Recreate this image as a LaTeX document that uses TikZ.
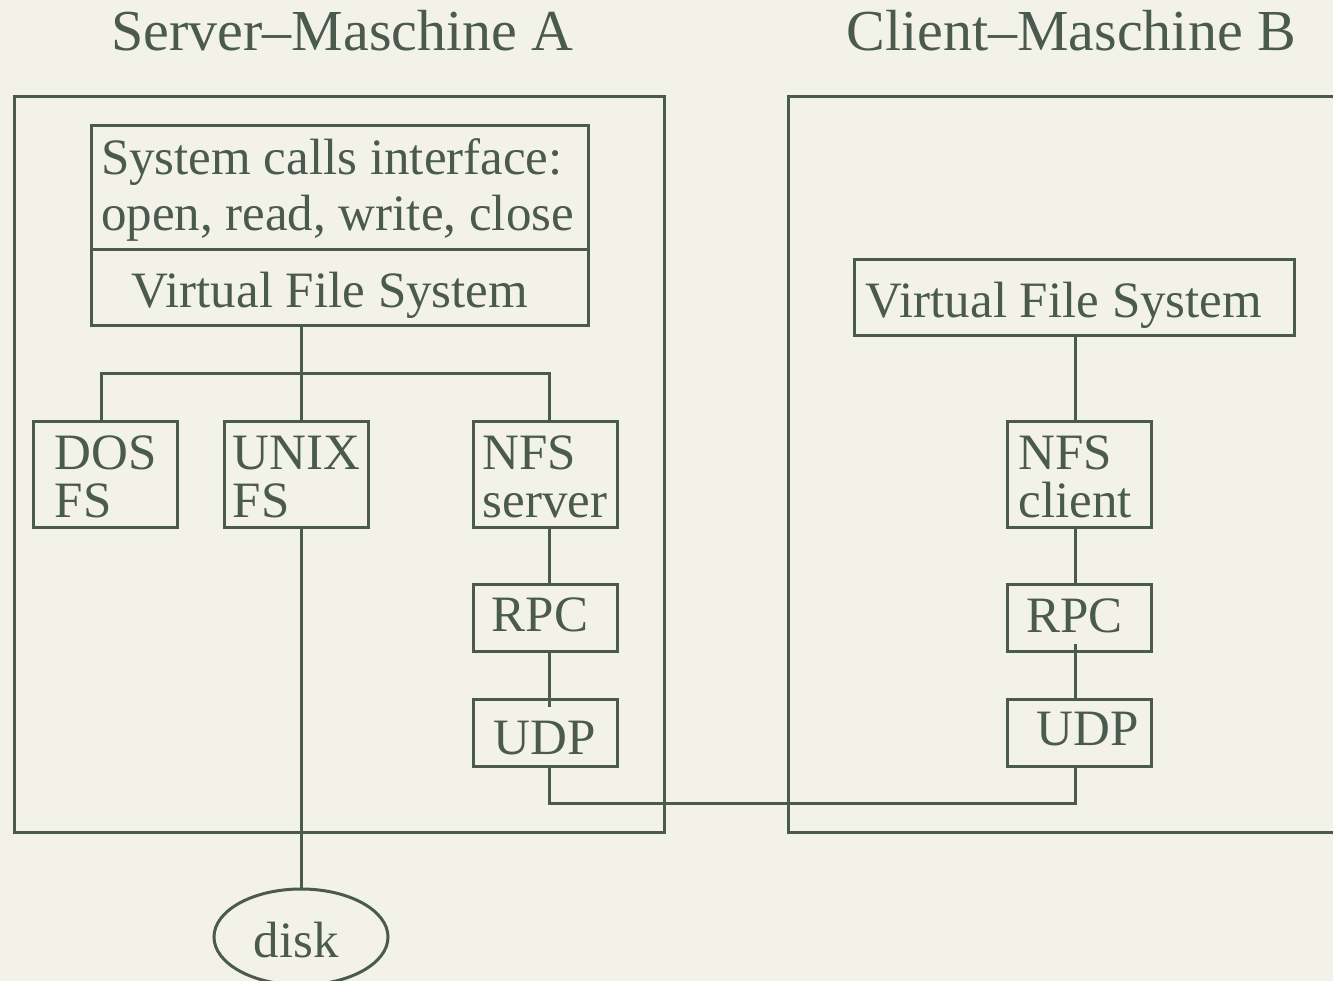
\documentclass[tikz,border=0pt]{standalone}
\usepackage{fontspec}
\setmainfont{Liberation Serif}
\usetikzlibrary{shapes.geometric,calc}
\definecolor{bgcol}{RGB}{242,242,232}
\definecolor{ink}{RGB}{74,90,78}
\newcommand{\shiftdn}[2]{\raisebox{-#1}[\height][\depth]{#2}}
\begin{document}
\begin{tikzpicture}[x=1pt,y=-1pt,line width=3pt,color=ink,
  boxed/.style={draw,rectangle,inner sep=0pt,font=\fontsize{51}{48}\selectfont,align=left},
  frame/.style={draw,rectangle,inner sep=0pt},
  title/.style={font=\fontsize{58}{60}\selectfont,inner sep=0pt,anchor=base west},
  store/.style={draw,ellipse,inner sep=0pt,minimum width=174pt,minimum height=96pt,font=\fontsize{51}{48}\selectfont}]

\fill[bgcol] (0,0) rectangle (1333,981);
\useasboundingbox (0,0) rectangle (1333,981);
\clip (0,0) rectangle (1333,981);

% titles
\node[title] (tA) at (110,50.7) {Server--Maschine A};
\node[title] (tB) at (845,50.7) {Client--Maschine B};

% machine frames
\node[frame,minimum width=650pt,minimum height=735pt] (srv) at (339,464.5) {};
\node[frame,minimum width=560pt,minimum height=735pt] (cli) at (1068,464.5) {};

% server side
\node[boxed,minimum width=497pt,minimum height=124pt] (sys) at (339.5,188) {\shiftdn{2pt}{System calls interface:}\\[8pt]\shiftdn{2pt}{open, read, write, close}\hspace*{4pt}};
\node[boxed,minimum width=497pt,minimum height=76pt] (vfsA) at (339.5,288) {\shiftdn{7pt}{Virtual File System}\hspace*{19pt}};
\node[boxed,minimum width=144pt,minimum height=106pt] (dos) at (105.8,474.7) {\shiftdn{2pt}{DOS}\\\shiftdn{2pt}{FS}};
\node[boxed,minimum width=144pt,minimum height=106pt] (unix) at (296.7,474.7) {\shiftdn{2pt}{UNIX}\\\shiftdn{2pt}{FS}};
\node[boxed,minimum width=144pt,minimum height=106pt] (nfss) at (545,474.7) {\shiftdn{2pt}{NFS}\\\shiftdn{2pt}{server}};
\node[boxed,minimum width=144pt,minimum height=67pt] (rpcA) at (545,618) {\shiftdn{-3pt}{RPC}\hspace*{10pt}};
\node[boxed,minimum width=144pt,minimum height=67pt] (udpA) at (545,732.5) {\shiftdn{6pt}{UDP}};
\node[store] (disk) at (301,937) {\shiftdn{3pt}{disk}\hspace*{9pt}};

% client side
\node[boxed,minimum width=440pt,minimum height=76pt] (vfsB) at (1074,298) {\shiftdn{7pt}{Virtual File System}\hspace*{20pt}};
\node[boxed,minimum width=144pt,minimum height=106pt] (nfsc) at (1079,474.7) {\shiftdn{2pt}{NFS}\\\shiftdn{2pt}{client}\hspace*{8pt}};
\node[boxed,minimum width=144pt,minimum height=67pt] (rpcB) at (1079,618) {\shiftdn{-2pt}{RPC}\hspace*{9pt}};
\node[boxed,minimum width=144pt,minimum height=67pt] (udpB) at (1079,732.5) {\hspace*{17pt}\shiftdn{-3pt}{UDP}};

% routing coordinates
\coordinate (jA) at (301,374);
\coordinate (xDos) at (101,374);
\coordinate (xNfs) at (549.5,374);
\coordinate (net) at (549.5,803);
\coordinate (xB) at (1075,803);

% connectors
\draw (vfsA.south -| jA) -- (unix.north -| jA);
\draw (dos.north -| xDos) -- (xDos) -- (xNfs) -- (nfss.north -| xNfs);
\draw (nfss.south -| xNfs) -- (rpcA.north -| xNfs);
\draw (rpcA.south -| xNfs) -- ($(udpA.north -| xNfs)+(0,9)$);
\draw (unix.south -| jA) -- (disk.north);
\draw (udpA.south -| xNfs) -- (net) -- (xB) -- (udpB.south -| xB);
\draw (vfsB.south -| xB) -- (nfsc.north -| xB);
\draw (nfsc.south -| xB) -- (rpcB.north -| xB);
\draw ($(rpcB.south -| xB)+(0,-9)$) -- (udpB.north -| xB);
\end{tikzpicture}
\end{document}
